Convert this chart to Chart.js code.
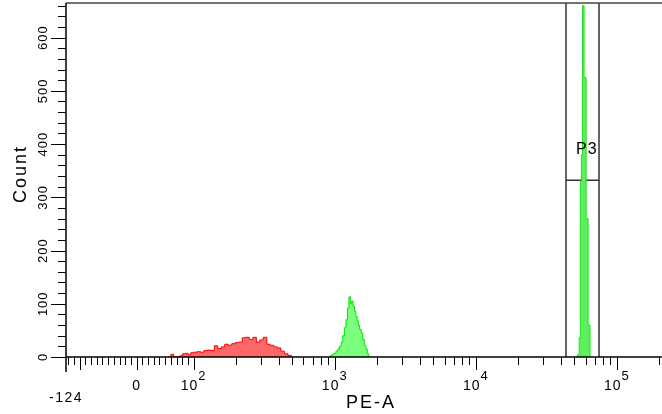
<!DOCTYPE html>
<html>
<head>
<meta charset="utf-8">
<script src="https://cdn.jsdelivr.net/npm/chart.js@4.4.1/dist/chart.umd.min.js"></script>
<style>
  html, body { margin: 0; padding: 0; background: #fff; overflow: hidden; }
  #wrap { width: 662px; height: 414px; }
</style>
</head>
<body>
<div id="wrap"><canvas id="histChart"></canvas></div>
<script>
// histogram data (PE-A value of bin left edge, count)
const redBins   = [55, 60, 65, 70, 75, 80, 85, 90, 95, 100, 106, 112, 118, 125, 132, 140, 148, 157, 166,
                   176, 186, 197, 209, 221, 234, 248, 263, 278, 294, 311, 330, 349, 370, 392, 415, 440, 466, 493];
const redCounts = [0, 5, 0, 0, 2, 6, 7, 5, 8, 9, 10, 9, 12, 13, 12, 21, 16, 19, 24,
                   22, 25, 27, 28, 36, 37, 33, 37, 28, 32, 37, 24, 22, 19, 17, 11, 6, 3, 0];

const greenBins   = [900, 930, 960, 990, 1020, 1050, 1080, 1110, 1140, 1170, 1200, 1230, 1260, 1290,
                     1320, 1350, 1380, 1410, 1440, 1470, 1500, 1540, 1580, 1620, 1660, 1700, 1740];
const greenCounts = [0, 3, 5, 7, 11, 15, 20, 28, 40, 55, 70, 92, 113, 100,
                     105, 95, 86, 76, 68, 60, 52, 45, 33, 22, 15, 6, 0];

const spikeBins   = [51000, 52500, 54000, 55000, 56000, 57000, 58500, 60500, 62500, 64500];
const spikeCounts = [0, 4, 36, 330, 380, 660, 525, 260, 60, 0];

// gate P3
const gateEdges = [43550, 74650];
const gateLevel = 332;
const gateLabel = 'P3';
const gateLabelLevel = 389;

// axes
const xMin = -124, xMax = 208700;
const yMin = 0, yMax = 665;
const xLabelValues = [0, 100, 1000, 10000, 100000];
const xLabelExps   = ['', '2', '3', '4', '5'];
const yTickValues  = [0, 100, 200, 300, 400, 500, 600];

// biexponential-like transform: linear up to 100, log above
const LIN = 100, DEC = 247.5;
function biex(v) { return v <= LIN ? v : LIN + DEC * Math.log10(v / LIN); }
function biexInv(t) { return t <= LIN ? t : LIN * Math.pow(10, (t - LIN) / DEC); }

class BiexScale extends Chart.Scale {
  determineDataLimits() {
    this.min = this.options.min;
    this.max = this.options.max;
  }
  buildTicks() {
    return xLabelValues.map(v => ({ value: v }));
  }
  configure() {
    super.configure();
    this._t0 = biex(this.min);
    this._t1 = biex(this.max);
  }
  getPixelForValue(v) {
    if (v === null || v === undefined || isNaN(v)) return NaN;
    return this.getPixelForDecimal((biex(v) - this._t0) / (this._t1 - this._t0));
  }
  getValueForPixel(p) {
    return biexInv(this._t0 + this.getDecimalForPixel(p) * (this._t1 - this._t0));
  }
}
BiexScale.id = 'biex';
BiexScale.defaults = {};
Chart.register(BiexScale);

function toPoints(xs, ys) { return xs.map((x, i) => ({ x: x, y: ys[i] })); }

const gatePoints = [
  { x: gateEdges[0], y: yMin }, { x: gateEdges[0], y: yMax }, { x: gateEdges[0], y: null },
  { x: gateEdges[1], y: yMin }, { x: gateEdges[1], y: yMax }, { x: gateEdges[1], y: null },
  { x: gateEdges[0], y: gateLevel }, { x: gateEdges[1], y: gateLevel }
];

// minor / major tick marks of the x axis
const xMajor = [-100, 0, 100, 1000, 10000, 100000];
const xMinor = [];
for (let v = -120; v <= 90; v += 10) if (v !== 0 && v !== -100) xMinor.push(v);
[100, 1000, 10000, 100000].forEach(d => {
  for (let m = 2; m <= 9; m++) if (m * d <= xMax) xMinor.push(m * d);
});

const FONT = '"Liberation Sans", Arial, sans-serif';

const facsAxes = {
  id: 'facsAxes',
  afterDraw(chart) {
    const { ctx, chartArea: a, scales: { x, y } } = chart;
    const seg = (x1, y1, x2, y2) => { ctx.beginPath(); ctx.moveTo(x1, y1); ctx.lineTo(x2, y2); ctx.stroke(); };
    ctx.save();

    // frame
    ctx.strokeStyle = '#444';
    ctx.lineWidth = 1.5;
    seg(a.left, a.top, a.right, a.top);
    ctx.strokeStyle = '#000';
    seg(a.left, a.top, a.left, a.bottom + 15);
    seg(a.left, a.bottom, a.right, a.bottom);

    // y ticks
    ctx.lineWidth = 1;
    for (let v = yMin; v <= yMax; v += 20) {
      const py = Math.round(y.getPixelForValue(v)) + 0.5;
      const len = v % 100 === 0 ? 15 : 8;
      seg(a.left - len, py, a.left, py);
    }
    // x ticks
    xMajor.forEach(v => {
      const px = Math.round(x.getPixelForValue(v)) + 0.5;
      seg(px, a.bottom, px, a.bottom + 13);
    });
    xMinor.forEach(v => {
      const px = Math.round(x.getPixelForValue(v)) + 0.5;
      seg(px, a.bottom, px, a.bottom + 8);
    });

    ctx.fillStyle = '#000';
    // y tick labels (rotated)
    ctx.font = '13px ' + FONT;
    ctx.letterSpacing = '1px';
    ctx.textAlign = 'center';
    ctx.textBaseline = 'middle';
    yTickValues.forEach(v => {
      ctx.save();
      ctx.translate(a.left - 23, y.getPixelForValue(v));
      ctx.rotate(-Math.PI / 2);
      ctx.fillText(String(v), 0, 0);
      ctx.restore();
    });

    // y title
    ctx.save();
    ctx.font = '18px ' + FONT;
    ctx.letterSpacing = '2px';
    ctx.translate(21, (a.top + a.bottom) / 2 - 6);
    ctx.rotate(-Math.PI / 2);
    ctx.fillText('Count', 0, 0);
    ctx.restore();

    // x tick labels
    ctx.textBaseline = 'alphabetic';
    ctx.letterSpacing = '1px';
    xLabelValues.forEach((v, i) => {
      const px = x.getPixelForValue(v);
      if (!xLabelExps[i]) {
        ctx.font = '14px ' + FONT;
        ctx.textAlign = 'center';
        ctx.fillText(String(v), px, a.bottom + 33);
        return;
      }
      ctx.textAlign = 'left';
      ctx.font = '14px ' + FONT;
      const w10 = ctx.measureText('10').width;
      ctx.font = '13px ' + FONT;
      const we = ctx.measureText(xLabelExps[i]).width;
      const start = px - (w10 + we) / 2;
      ctx.font = '14px ' + FONT;
      ctx.fillText('10', start, a.bottom + 33);
      ctx.font = '13px ' + FONT;
      ctx.fillText(xLabelExps[i], start + w10, a.bottom + 23);
    });
    ctx.font = '14px ' + FONT;
    ctx.letterSpacing = '1.5px';
    ctx.textAlign = 'center';
    ctx.fillText(String(xMin), x.getPixelForValue(xMin), a.bottom + 45);

    // x title
    ctx.font = '18px ' + FONT;
    ctx.letterSpacing = '2px';
    ctx.fillText('PE-A', 371, a.bottom + 51);

    // gate label
    ctx.font = '16px ' + FONT;
    ctx.letterSpacing = '1px';
    ctx.textAlign = 'left';
    ctx.textBaseline = 'middle';
    ctx.fillText(gateLabel, x.getPixelForValue(gateEdges[0]) + 10, y.getPixelForValue(gateLabelLevel));

    ctx.restore();
  }
};

const ctxHist = document.getElementById('histChart').getContext('2d');
const histChart = new Chart(ctxHist, {
  type: 'line',
  data: {
    datasets: [
      {
        label: 'red',
        data: toPoints(redBins, redCounts),
        stepped: 'before',
        fill: 'origin',
        borderColor: '#ff0000',
        backgroundColor: '#ff6868',
        borderWidth: 1,
        pointRadius: 0
      },
      {
        label: 'green',
        data: toPoints(greenBins, greenCounts),
        stepped: 'before',
        fill: 'origin',
        borderColor: '#00e600',
        backgroundColor: '#7cff7c',
        borderWidth: 1,
        pointRadius: 0
      },
      {
        label: 'green spike',
        data: toPoints(spikeBins, spikeCounts),
        stepped: 'before',
        fill: 'origin',
        borderColor: '#22e022',
        backgroundColor: '#5cf05c',
        borderWidth: 1,
        pointRadius: 0
      },
      {
        label: 'P3',
        data: gatePoints,
        fill: false,
        spanGaps: false,
        borderColor: '#333',
        borderWidth: 1.5,
        pointRadius: 0
      }
    ]
  },
  options: {
    responsive: true,
    maintainAspectRatio: false,
    animation: false,
    layout: { padding: { left: 66, top: 3, right: 0, bottom: 57 } },
    scales: {
      x: { type: 'biex', min: xMin, max: xMax, display: false },
      y: { type: 'linear', min: yMin, max: yMax, display: false }
    },
    plugins: {
      legend: { display: false },
      tooltip: { enabled: false }
    }
  },
  plugins: [facsAxes]
});
</script>
</body>
</html>
